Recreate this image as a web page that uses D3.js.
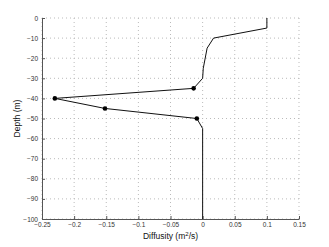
<!DOCTYPE html>
<html>
<meta charset="UTF-8">
<script src="https://d3js.org/d3.v7.min.js"></script>
<style>
body { margin: 0; background: #fff; }
text { font-family: "Liberation Sans", Arial, sans-serif; }
</style>
<body>
<div id="chart"></div>
<script>
// profile
const diffusity = [0.1, 0.1, 0.017, 0.007, 0.001, 0, -0.014, -0.23, -0.152, -0.009, 0, 0];
const depth     = [0, -5, -10, -15, -25, -30, -35, -40, -45, -50, -55, -100];
const markerIdx = [6, 7, 8, 9];
const xTicks = [-0.25, -0.2, -0.15, -0.1, -0.05, 0, 0.05, 0.1, 0.15];
const yTicks = [0, -10, -20, -30, -40, -50, -60, -70, -80, -90, -100];

const W = 329, H = 247;
const margin = {top: 18, right: 30, bottom: 28, left: 42};
const width = W - margin.left - margin.right,
      height = H - margin.top - margin.bottom;

const svg = d3.select("#chart").append("svg")
    .attr("width", W).attr("height", H)
  .append("g")
    .attr("transform", `translate(${margin.left},${margin.top})`);

const x = d3.scaleLinear().domain([-0.25, 0.15]).range([0, width]);
const y = d3.scaleLinear().domain([-100, 0]).range([height, 0]);

// dotted grid
svg.selectAll(".vg").data(xTicks).enter().append("line")
  .attr("x1", d => x(d)).attr("x2", d => x(d))
  .attr("y1", 0).attr("y2", height)
  .attr("stroke", "#bbb").attr("stroke-width", 1)
  .attr("stroke-dasharray", "1,3");
svg.selectAll(".hg").data(yTicks).enter().append("line")
  .attr("x1", 0).attr("x2", width)
  .attr("y1", d => y(d)).attr("y2", d => y(d))
  .attr("stroke", "#bbb").attr("stroke-width", 1)
  .attr("stroke-dasharray", "1,3");

// axes
const xAxis = svg.append("g")
  .attr("transform", `translate(0,${height})`)
  .call(d3.axisBottom(x).tickValues(xTicks).tickSizeInner(-3).tickSizeOuter(0)
        .tickFormat(d => d === 0 ? "0" : d3.format("")(+d.toFixed(2))));
const yAxis = svg.append("g")
  .call(d3.axisLeft(y).tickValues(yTicks).tickSizeInner(-3).tickSizeOuter(0));

[xAxis, yAxis].forEach(a => {
  a.select(".domain").attr("stroke", "#555");
  a.selectAll(".tick line").attr("stroke", "#555");
  a.selectAll("text").attr("font-size", 6.5).attr("fill", "#333")
    .attr("font-family", "Liberation Sans, Arial, sans-serif");
});
xAxis.selectAll("text").attr("dy", "0.5em").attr("y", 5);
yAxis.selectAll("text").attr("x", -4);

// profile line
svg.append("path")
  .datum(d3.range(depth.length))
  .attr("fill", "none")
  .attr("stroke", "#111")
  .attr("stroke-width", 1)
  .attr("d", d3.line().x(i => x(diffusity[i])).y(i => y(depth[i])));

svg.selectAll(".dot").data(markerIdx).enter().append("circle")
  .attr("cx", i => x(diffusity[i])).attr("cy", i => y(depth[i]))
  .attr("r", 2.3).attr("fill", "#000");

// axis titles
const xt = svg.append("text")
  .attr("x", width / 2).attr("y", height + 20)
  .attr("text-anchor", "middle").attr("font-size", 8.5).attr("fill", "#111");
xt.append("tspan").text("Diffusity (m");
xt.append("tspan").attr("font-size", 6).attr("dy", -3.5).text("2");
xt.append("tspan").attr("dy", 3.5).text("/s)");

svg.append("text")
  .attr("transform", "rotate(-90)")
  .attr("x", -height / 2).attr("y", -22)
  .attr("text-anchor", "middle").attr("font-size", 8.5).attr("fill", "#111")
  .text("Depth (m)");
</script>
</body>
</html>
